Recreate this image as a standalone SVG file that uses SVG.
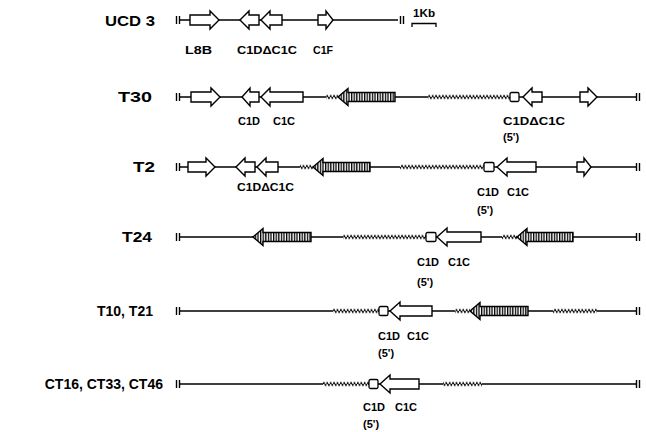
<svg xmlns="http://www.w3.org/2000/svg" width="646" height="432" viewBox="0 0 646 432">
<style>
.lab{font-family:"Liberation Sans",Arial,sans-serif;font-weight:bold;font-size:14px;fill:#000}
.sub{font-family:"Liberation Sans",Arial,sans-serif;font-weight:bold;font-size:11px;fill:#000}
.bb{stroke:#000;stroke-width:1.3;fill:none}
.bar{stroke:#000;stroke-width:1.4}
.arr{fill:#fff;stroke:#000;stroke-width:1.4;stroke-linejoin:miter}
.hat{fill:url(#hatch);stroke:#000;stroke-width:1.4}
.box{fill:#fff;stroke:#000;stroke-width:1.3}
.zz{fill:url(#zz)}
</style>
<defs>
<pattern id="zz" patternUnits="userSpaceOnUse" x="0" y="-3" width="3.4" height="6">
<path d="M0,3 L0.85,1.3 L2.55,4.7 L3.4,3" fill="none" stroke="#000" stroke-width="1"/>
</pattern>
<pattern id="hatch" patternUnits="userSpaceOnUse" x="0" y="0" width="2.6" height="20">
<rect width="2.6" height="20" fill="#fff"/>
<rect width="1.3" height="20" fill="#000"/>
</pattern>
</defs>
<rect width="646" height="432" fill="#fff"/>

<g id="row-ucd3" transform="translate(0,20)">
<text class="lab" x="105" y="6" textLength="50" lengthAdjust="spacingAndGlyphs">UCD 3</text>
<g id="ucd3-connectors">
<line class="bar" x1="176.5" y1="-4" x2="176.5" y2="4"/><line class="bar" x1="179.5" y1="-4" x2="179.5" y2="4"/>
<path class="bb" d="M179.5,0 H398"/>
<line class="bar" x1="400.5" y1="-4" x2="400.5" y2="4"/><line class="bar" x1="403.5" y1="-4" x2="403.5" y2="4"/>
</g>
<g id="ucd3-l8b"><path class="arr" d="M190,-5 H210 V-9 L219,0 L210,9 V5 H190 Z"/><text class="sub" x="185" y="34" textLength="27" lengthAdjust="spacingAndGlyphs">L8B</text></g>
<g id="ucd3-c1d"><path class="arr" d="M259,-5 H249 V-9 L240,0 L249,9 V5 H259 Z"/></g>
<g id="ucd3-c1c"><path class="arr" d="M282,-5 H270 V-9 L261,0 L270,9 V5 H282 Z"/><text class="sub" x="237" y="34" textLength="60" lengthAdjust="spacingAndGlyphs">C1DΔC1C</text></g>
<g id="ucd3-c1f"><path class="arr" d="M318,-5 H326 V-9 L333,0 L326,9 V5 H318 Z"/><text class="sub" x="313" y="34" textLength="20" lengthAdjust="spacingAndGlyphs">C1F</text></g>
<g id="scale"><text class="sub" x="413" y="-3" textLength="22" lengthAdjust="spacingAndGlyphs">1Kb</text><path class="bb" d="M412,7 V3.5 H436 V7"/></g>
</g>

<g id="row-t30" transform="translate(0,97)">
<text class="lab" x="118" y="5" textLength="34" lengthAdjust="spacingAndGlyphs">T30</text>
<g id="t30-connectors">
<line class="bar" x1="176.5" y1="-4" x2="176.5" y2="4"/><line class="bar" x1="179.5" y1="-4" x2="179.5" y2="4"/>
<path class="bb" d="M179.5,0 H326 M338,0 H428 M510,0 H636"/>
<rect class="zz" x="326" y="-3" width="12" height="6"/>
<rect class="zz" x="428" y="-3" width="82" height="6"/>
<line class="bar" x1="636.5" y1="-4" x2="636.5" y2="4"/><line class="bar" x1="639.5" y1="-4" x2="639.5" y2="4"/>
</g>
<g id="t30-l8b"><path class="arr" d="M191,-5 H211 V-9 L220,0 L211,9 V5 H191 Z"/></g>
<g id="t30-c1d"><path class="arr" d="M259,-5 H250 V-9 L242,0 L250,9 V5 H259 Z"/><text class="sub" x="238" y="28">C1D</text></g>
<g id="t30-c1c"><path class="arr" d="M303,-5 H270 V-9 L261,0 L270,9 V5 H303 Z"/><text class="sub" x="273" y="28">C1C</text></g>
<g id="t30-hatched"><path class="hat" d="M395,-4.5 H348 V-8.5 L338,0 L348,8.5 V4.5 H395 Z"/></g>
<g id="t30-c1d5"><rect class="box" x="510" y="-4.5" width="9" height="9" rx="1.5"/></g>
<g id="t30-dc1c"><path class="arr" d="M542,-5 H532 V-9 L523,0 L532,9 V5 H542 Z"/><text class="sub" x="503" y="28" textLength="62" lengthAdjust="spacingAndGlyphs">C1DΔC1C</text><text class="sub" x="503" y="44">(5')</text></g>
<g id="t30-c1f"><path class="arr" d="M580,-5 H588 V-9 L597,0 L588,9 V5 H580 Z"/></g>
</g>

<g id="row-t2" transform="translate(0,167)">
<text class="lab" x="133" y="5" textLength="22" lengthAdjust="spacingAndGlyphs">T2</text>
<g id="t2-connectors">
<line class="bar" x1="176.5" y1="-4" x2="176.5" y2="4"/><line class="bar" x1="179.5" y1="-4" x2="179.5" y2="4"/>
<path class="bb" d="M179.5,0 H300 M313,0 H400 M484,0 H636"/>
<rect class="zz" x="300" y="-3" width="13" height="6"/>
<rect class="zz" x="400" y="-3" width="84" height="6"/>
<line class="bar" x1="636.5" y1="-4" x2="636.5" y2="4"/><line class="bar" x1="639.5" y1="-4" x2="639.5" y2="4"/>
</g>
<g id="t2-l8b"><path class="arr" d="M188,-5 H206 V-9 L215,0 L206,9 V5 H188 Z"/></g>
<g id="t2-c1d"><path class="arr" d="M255,-5 H245 V-9 L236,0 L245,9 V5 H255 Z"/></g>
<g id="t2-c1c"><path class="arr" d="M278,-5 H266 V-9 L257,0 L266,9 V5 H278 Z"/><text class="sub" x="237" y="24" textLength="57" lengthAdjust="spacingAndGlyphs">C1DΔC1C</text></g>
<g id="t2-hatched"><path class="hat" d="M370,-4.5 H323 V-8.5 L313,0 L323,8.5 V4.5 H370 Z"/></g>
<g id="t2-c1d5"><rect class="box" x="484" y="-4.5" width="10" height="9" rx="1.5"/><text class="sub" x="477" y="29">C1D</text><text class="sub" x="477" y="47">(5')</text></g>
<g id="t2-c1c2"><path class="arr" d="M536,-5 H507 V-9 L497,0 L507,9 V5 H536 Z"/><text class="sub" x="507" y="29">C1C</text></g>
<g id="t2-c1f"><path class="arr" d="M577,-5 H584 V-9 L591,0 L584,9 V5 H577 Z"/></g>
</g>

<g id="row-t24" transform="translate(0,237)">
<text class="lab" x="122" y="5" textLength="30" lengthAdjust="spacingAndGlyphs">T24</text>
<g id="t24-connectors">
<line class="bar" x1="176.5" y1="-4" x2="176.5" y2="4"/><line class="bar" x1="179.5" y1="-4" x2="179.5" y2="4"/>
<path class="bb" d="M179.5,0 H343 M425,0 H502 M516,0 H636"/>
<rect class="zz" x="343" y="-3" width="83" height="6"/>
<rect class="zz" x="502" y="-3" width="15" height="6"/>
<line class="bar" x1="636.5" y1="-4" x2="636.5" y2="4"/><line class="bar" x1="639.5" y1="-4" x2="639.5" y2="4"/>
</g>
<g id="t24-hatched1"><path class="hat" d="M311,-4.5 H263 V-8.5 L253,0 L263,8.5 V4.5 H311 Z"/></g>
<g id="t24-c1d5"><rect class="box" x="426" y="-4.5" width="10" height="9" rx="1.5"/><text class="sub" x="417" y="29">C1D</text><text class="sub" x="417" y="49">(5')</text></g>
<g id="t24-c1c"><path class="arr" d="M481,-5 H447 V-9 L437,0 L447,9 V5 H481 Z"/><text class="sub" x="448" y="29">C1C</text></g>
<g id="t24-hatched2"><path class="hat" d="M573,-4.5 H527 V-8.5 L517,0 L527,8.5 V4.5 H573 Z"/></g>
</g>

<g id="row-t10" transform="translate(0,311)">
<text class="lab" x="153" y="5" text-anchor="end">T10, T21</text>
<g id="t10-connectors">
<line class="bar" x1="176.5" y1="-4" x2="176.5" y2="4"/><line class="bar" x1="179.5" y1="-4" x2="179.5" y2="4"/>
<path class="bb" d="M179.5,0 H333 M378,0 H455 M470,0 H553 M597,0 H636"/>
<rect class="zz" x="333" y="-3" width="46" height="6"/>
<rect class="zz" x="455" y="-3" width="15" height="6"/>
<rect class="zz" x="553" y="-3" width="44" height="6"/>
<line class="bar" x1="636.5" y1="-4" x2="636.5" y2="4"/><line class="bar" x1="639.5" y1="-4" x2="639.5" y2="4"/>
</g>
<g id="t10-c1d5"><rect class="box" x="379" y="-4.5" width="9" height="9" rx="1.5"/><text class="sub" x="378" y="29">C1D</text><text class="sub" x="378" y="46">(5')</text></g>
<g id="t10-c1c"><path class="arr" d="M432,-5 H400 V-9 L390,0 L400,9 V5 H432 Z"/><text class="sub" x="407" y="29">C1C</text></g>
<g id="t10-hatched"><path class="hat" d="M528,-4.5 H480 V-8.5 L470,0 L480,8.5 V4.5 H528 Z"/></g>
</g>

<g id="row-ct" transform="translate(0,384)">
<text class="lab" x="163" y="5" text-anchor="end">CT16, CT33, CT46</text>
<g id="ct-connectors">
<line class="bar" x1="176.5" y1="-4" x2="176.5" y2="4"/><line class="bar" x1="179.5" y1="-4" x2="179.5" y2="4"/>
<path class="bb" d="M179.5,0 H323 M368,0 H443 M482,0 H636"/>
<rect class="zz" x="323" y="-3" width="46" height="6"/>
<rect class="zz" x="443" y="-3" width="39" height="6"/>
<line class="bar" x1="636.5" y1="-4" x2="636.5" y2="4"/><line class="bar" x1="639.5" y1="-4" x2="639.5" y2="4"/>
</g>
<g id="ct-c1d5"><rect class="box" x="369" y="-4.5" width="9" height="9" rx="1.5"/><text class="sub" x="363" y="27">C1D</text><text class="sub" x="363" y="44">(5')</text></g>
<g id="ct-c1c"><path class="arr" d="M419,-5 H390 V-9 L380,0 L390,9 V5 H419 Z"/><text class="sub" x="395" y="27">C1C</text></g>
</g>
</svg>
